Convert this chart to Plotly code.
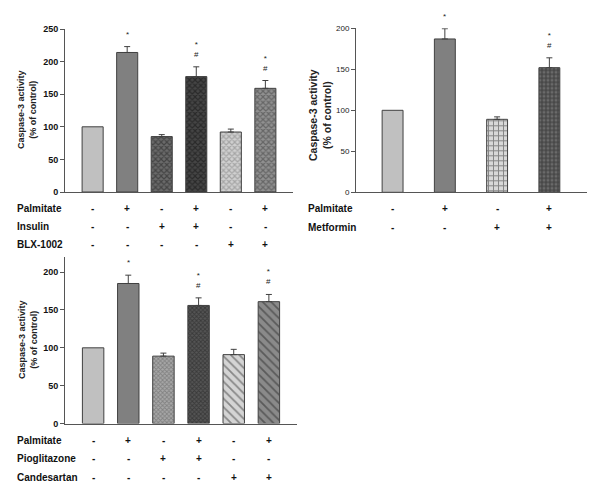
import plotly.graph_objects as go

# the page body has an 8px margin, so the figure is drawn 8px smaller and
# every pixel position read off the reference is shifted by that offset
OFF = 8
W, H = 600 - OFF, 498 - OFF
FONT = "Arial, Liberation Sans, sans-serif"

# panel 1: palmitate / insulin / BLX-1002
p1_values = [100, 214, 85, 177, 92, 159]
p1_errors = [0, 9, 3, 15, 4.5, 12]
p1_marks = ["", "*", "", "*<br>#", "", "*<br>#"]
p1_row_names = ["Palmitate", "Insulin", "BLX-1002"]
p1_palmitate = ["-", "+", "-", "+", "-", "+"]
p1_insulin = ["-", "-", "+", "+", "-", "-"]
p1_blx = ["-", "-", "-", "-", "+", "+"]

# panel 2: palmitate / metformin
p2_values = [100, 187, 89, 152]
p2_errors = [0, 12.5, 3, 12]
p2_marks = ["", "*", "", "*<br>#"]
p2_row_names = ["Palmitate", "Metformin"]
p2_palmitate = ["-", "+", "-", "+"]
p2_metformin = ["-", "-", "+", "+"]

# panel 3: palmitate / pioglitazone / candesartan
p3_values = [100, 185, 89, 156, 91, 161]
p3_errors = [0, 11, 4, 10, 7, 9.5]
p3_marks = ["", "*", "", "*<br>#", "", "*<br>#"]
p3_row_names = ["Palmitate", "Pioglitazone", "Candesartan"]
p3_palmitate = ["-", "+", "-", "+", "-", "+"]
p3_piogli = ["-", "-", "+", "+", "-", "-"]
p3_candes = ["-", "-", "-", "-", "+", "+"]

SOLID_LIGHT = dict(shape="", bgcolor="#c0c0c0")
SOLID_GRAY = dict(shape="", bgcolor="#808080")

p1_patterns = [
    SOLID_LIGHT, SOLID_GRAY,
    dict(shape="x", size=4, solidity=0.5, bgcolor="#6a6a6a", fgcolor="#1e1e1e"),
    dict(shape="x", size=4, solidity=0.5, bgcolor="#454545", fgcolor="#101010"),
    dict(shape="x", size=4, solidity=0.5, bgcolor="#d0d0d0", fgcolor="#7a7a7a"),
    dict(shape="x", size=4, solidity=0.5, bgcolor="#909090", fgcolor="#3c3c3c"),
]
p2_patterns = [
    SOLID_LIGHT, SOLID_GRAY,
    dict(shape="+", size=5, solidity=0.35, bgcolor="#d8d8d8", fgcolor="#303030"),
    dict(shape="+", size=4, solidity=0.45, bgcolor="#6a6a6a", fgcolor="#101010"),
]
p3_patterns = [
    SOLID_LIGHT, SOLID_GRAY,
    dict(shape="x", size=3, solidity=0.5, bgcolor="#a8a8a8", fgcolor="#5a5a5a"),
    dict(shape="x", size=3, solidity=0.5, bgcolor="#555555", fgcolor="#1e1e1e"),
    dict(shape="\\", size=6, solidity=0.3, bgcolor="#d4d4d4", fgcolor="#3a3a3a"),
    dict(shape="\\", size=6, solidity=0.3, bgcolor="#8a8a8a", fgcolor="#2a2a2a"),
]


def px_x(p):
    return (p - OFF) / W


def px_y(p):
    return 1 - (p - OFF) / H


fig = go.Figure()


def add_panel(n, values, errors, marks, patterns, xdom, ydom, xrange, yrange,
              bar_w, tick_font, title_x, title_y, title_size, rows, row_y,
              label_x):
    xa = "xaxis" if n == 1 else "xaxis%d" % n
    ya = "yaxis" if n == 1 else "yaxis%d" % n
    xr = "x" if n == 1 else "x%d" % n
    yr = "y" if n == 1 else "y%d" % n
    cats = list(range(len(values)))
    for i, v in enumerate(values):
        fig.add_trace(go.Bar(
            x=[cats[i]], y=[v], width=bar_w,
            xaxis=xr, yaxis=yr,
            marker=dict(color=patterns[i]["bgcolor"], pattern=patterns[i],
                        line=dict(color="#404040", width=1)),
            error_y=dict(type="data", symmetric=False, array=[errors[i]],
                         arrayminus=[0], color="#404040", thickness=1,
                         width=3, visible=errors[i] > 0),
            showlegend=False, hoverinfo="skip",
        ))
        if marks[i]:
            fig.add_annotation(
                x=cats[i], y=v + errors[i], xref=xr, yref=yr, text=marks[i],
                showarrow=False, yanchor="bottom", yshift=6,
                font=dict(family=FONT, size=8, color="#222"),
            )
    fig.layout[xa] = dict(
        domain=xdom, range=xrange, showticklabels=False, ticks="",
        showline=True, linecolor="#555", linewidth=1, showgrid=False,
        zeroline=False, anchor=yr, fixedrange=True, automargin=False,
    )
    fig.layout[ya] = dict(
        domain=ydom, range=yrange, dtick=50, ticks="outside", ticklen=4,
        tickcolor="#555", showline=True, linecolor="#555", linewidth=1,
        showgrid=False, zeroline=False, anchor=xr, tickfont=tick_font,
        fixedrange=True, automargin=False,
    )
    fig.add_annotation(
        x=px_x(title_x), y=px_y(title_y), xref="paper", yref="paper",
        xanchor="center", yanchor="middle",
        text="<b>Caspase-3 activity<br>(% of control)</b>", textangle=-90,
        showarrow=False, font=dict(family=FONT, size=title_size, color="#222"),
    )
    for (name, signs), ry in zip(rows, row_y):
        fig.add_annotation(
            x=px_x(label_x), y=px_y(ry), xref="paper", yref="paper",
            text="<b>%s</b>" % name, showarrow=False, xanchor="left",
            yanchor="middle",
            font=dict(family=FONT, size=10, color="#111"),
        )
        for i, s in enumerate(signs):
            fig.add_annotation(
                x=cats[i], y=px_y(ry), xref=xr, yref="paper",
                text="<b>%s</b>" % s, showarrow=False,
                xanchor="center", yanchor="middle",
                font=dict(family=FONT, size=10, color="#111"),
            )


add_panel(
    1, p1_values, p1_errors, p1_marks, p1_patterns,
    [px_x(65), px_x(293)], [px_y(192), px_y(29)], [-0.8, 5.8], [0, 250],
    0.61, dict(family=FONT, size=9, color="#111", weight="bold"),
    27, 110, 9,
    list(zip(p1_row_names, [p1_palmitate, p1_insulin, p1_blx])),
    [208, 226, 244], 15,
)
add_panel(
    2, p2_values, p2_errors, p2_marks, p2_patterns,
    [px_x(356), px_x(587)], [px_y(192.3), px_y(28.3)], [-0.7, 3.72], [0, 200],
    0.40, dict(family=FONT, size=8, color="#222"),
    320, 115, 10.5,
    list(zip(p2_row_names, [p2_palmitate, p2_metformin])),
    [208, 227], 306,
)
add_panel(
    3, p3_values, p3_errors, p3_marks, p3_patterns,
    [px_x(65), px_x(297)], [px_y(423.5), px_y(257)], [-0.8, 5.8], [0, 220],
    0.61, dict(family=FONT, size=9, color="#111", weight="bold"),
    28, 340, 9,
    list(zip(p3_row_names, [p3_palmitate, p3_piogli, p3_candes])),
    [440, 458, 477], 15,
)

fig.update_layout(
    width=W, height=H,
    margin=dict(l=0, r=0, t=0, b=0, pad=0, autoexpand=False),
    paper_bgcolor="white", plot_bgcolor="white", barmode="overlay",
    showlegend=False,
)

fig.write_html("out.html")
